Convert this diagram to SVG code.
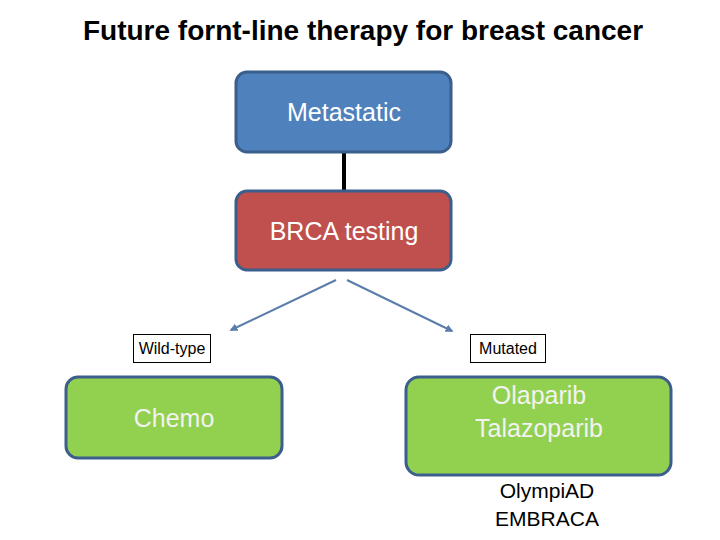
<svg xmlns="http://www.w3.org/2000/svg" width="720" height="540" viewBox="0 0 720 540">
<defs>
<style>
.box{stroke:#3B5E8C;stroke-width:3}
.wt{fill:#FFFFFF;font-family:"Liberation Sans",Arial,sans-serif;font-size:25px;text-anchor:middle}
.gt{fill:#F2F2F2;font-family:"Liberation Sans",Arial,sans-serif;font-size:25px;text-anchor:middle}
.lbl{fill:#FFFFFF;stroke:#000000;stroke-width:1}
.lt{fill:#000000;font-family:"Liberation Sans",Arial,sans-serif;font-size:16px;text-anchor:middle}
.bt{fill:#000000;font-family:"Liberation Sans",Arial,sans-serif;font-size:21px;text-anchor:middle}
.arr{stroke:#5A7DAB;stroke-width:2;fill:none;marker-end:url(#ah)}
</style>
<marker id="ah" viewBox="0 0 10 10" refX="8" refY="5" markerWidth="4" markerHeight="4" orient="auto">
<path d="M0,0 L10,5 L0,10 z" fill="#5A7DAB"/>
</marker>
</defs>
<rect width="720" height="540" fill="#FFFFFF"/>
<text x="363" y="40" font-family="'Liberation Sans',Arial,sans-serif" font-size="28" font-weight="bold" text-anchor="middle" fill="#000000">Future fornt-line therapy for breast cancer</text>
<g id="connectors">
<line x1="344" y1="152" x2="344" y2="191" stroke="#000000" stroke-width="4"/>
<line class="arr" x1="336" y1="280" x2="231" y2="330"/>
<line class="arr" x1="347" y1="280" x2="452" y2="331"/>
</g>
<g id="metastatic">
<rect class="box" x="236" y="72" width="215" height="80" rx="11" fill="#4F81BD"/>
<text class="wt" x="344" y="121">Metastatic</text>
</g>
<g id="brca">
<rect class="box" x="236" y="191" width="215" height="79" rx="11" fill="#C0504D"/>
<text class="wt" x="344" y="240">BRCA testing</text>
</g>
<g id="wildtype">
<rect class="lbl" x="133.5" y="334.5" width="77" height="28"/>
<text class="lt" x="172" y="354">Wild-type</text>
</g>
<g id="mutated">
<rect class="lbl" x="470.5" y="334.5" width="75" height="28"/>
<text class="lt" x="508" y="354">Mutated</text>
</g>
<g id="chemo">
<rect class="box" x="66" y="377" width="216" height="81" rx="12" fill="#92D050"/>
<text class="gt" x="174" y="427">Chemo</text>
</g>
<g id="parp">
<rect class="box" x="406" y="377" width="265" height="98" rx="13" fill="#92D050"/>
<text class="gt" x="539" y="404">Olaparib</text>
<text class="gt" x="539" y="437">Talazoparib</text>
</g>
<g id="trials">
<text class="bt" x="547" y="498">OlympiAD</text>
<text class="bt" x="547" y="526">EMBRACA</text>
</g>
</svg>
